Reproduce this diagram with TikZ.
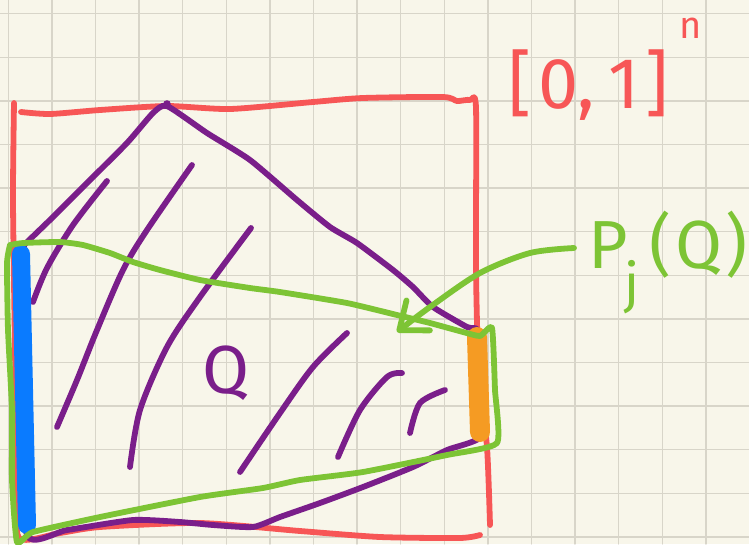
\documentclass[tikz,border=0pt]{standalone}
\usepackage{fontspec}
\setmainfont{Fira Sans}
\usetikzlibrary{arrows.meta,calc}

\definecolor{paper}{HTML}{F8F6EA}
\definecolor{gridgrey}{HTML}{D8D5C9}
\definecolor{cubered}{HTML}{F75656}
\definecolor{qpurple}{HTML}{7A1E8A}
\definecolor{projgreen}{HTML}{7DC435}
\definecolor{sideblue}{HTML}{0A7BFF}
\definecolor{sideorange}{HTML}{F59B23}

\begin{document}
\begin{tikzpicture}[x=1pt,y=-1pt,line cap=round,line join=round,
  gridline/.style={gridgrey,line width=1.3pt},
  cubeedge/.style={cubered,line width=5.8pt},
  qedge/.style={qpurple,line width=5.8pt},
  projedge/.style={projgreen,line width=5.8pt},
  hand/.style={inner sep=0pt,font=\fontsize{68}{72}\selectfont}]
  \useasboundingbox (0,0) rectangle (749,544);
  \fill[paper] (0,0) rectangle (749,544);
  % squared paper
  \foreach \gx in {0,...,16}
    \draw[gridline] ({8.3+43.6*\gx},0) -- ++(0,544);
  \foreach \gy in {0,...,12}
    \draw[gridline] (0,{13.7+43.6*\gy}) -- ++(749,0);
  % the cube [0,1]^n
  \draw[cubeedge] plot[smooth,tension=0.4] coordinates {(14,103) (13,200) (15,350)
    (17,480) (19,538) (60,533) (100,527) (200,523) (300,531) (380,537) (460,538) (480,535)};
  \draw[cubeedge] plot[smooth,tension=0.4] coordinates {(21,112) (50,114) (100,110)
    (167,106) (230,109) (313,102) (363,98) (443,97) (457,101) (470,100) (476,108)
    (476,270) (479,380) (487,447) (490,525)};
  % the set Q
  \draw[qedge] plot[smooth,tension=0.35] coordinates {(24,245) (53,217) (87,183)
    (127,143) (153,113) (167,106) (207,133) (250,160) (297,200) (330,227) (357,243)
    (393,270) (413,287) (433,307) (467,327) (478,331) (481,380) (483,435) (447,450)
    (413,467) (363,487) (320,503) (280,517) (253,527) (213,525) (180,522) (133,520)
    (67,530) (27,535) (23,400) (24,245)};
  \fill[qpurple] (167,104) circle (3.8pt);
  % hatching
  \draw[qedge] plot[smooth] coordinates {(107,181) (73,225) (47,268) (33,302)};
  \draw[qedge] plot[smooth] coordinates {(192,165) (147,230) (123,270) (97,330) (77,380) (57,427)};
  \draw[qedge] plot[smooth] coordinates {(251,228) (200,297) (167,347) (140,410) (130,467)};
  \draw[qedge] plot[smooth] coordinates {(347,333) (313,367) (280,413) (240,472)};
  \draw[qedge] plot[smooth] coordinates {(402,373) (387,377) (360,410) (338,457)};
  \draw[qedge] plot[smooth] coordinates {(445,390) (420,403) (410,433)};
  % the two faces
  \draw[sideblue,line width=18pt] (21,254) -- (27,525);
  \draw[sideorange,line width=20pt] (477,337) -- (480,432);
  % the projection P_j(Q)
  \draw[projedge] plot[smooth,tension=0.3] coordinates {(10,245) (23,243) (60,242)
    (83,245) (110,253) (133,262) (160,270) (200,280) (250,288) (280,292) (347,303)
    (397,315) (430,323) (463,332) (480,336) (492,328) (495,390) (497,443) (447,455)
    (363,472) (300,480) (263,488) (200,497) (100,517) (33,532) (17,542) (12,480)
    (12,410) (8,330) (7,263) (10,245)};
  % labels
  \node[hand,cubered,anchor=base west,font=\fontsize{72}{76}\selectfont] (cube) at (508,108)
    {[\kern0.1em0,\kern0.18em1\kern0.08em]\kern0.15em\raisebox{70pt}{\fontsize{38}{40}\selectfont n}};
  \node[hand,qpurple,anchor=base] (qlabel) at (226,393) {Q};
  \node[hand,projgreen,anchor=base west] (proj) at (588,268)
    {P\kern-0.05em\raisebox{-0.5em}{\fontsize{54}{58}\selectfont j}\kern0.15em(\kern0.05em Q\kern0.05em)};
  \coordinate (projtip) at (397,332);
  \draw[projedge,-{Straight Barb[length=24pt,width=38pt,round]}]
    plot[smooth] coordinates {($(proj.west)+(-14,-14)$) (530,253) (480,273) (430,307) (projtip)};
\end{tikzpicture}
\end{document}
